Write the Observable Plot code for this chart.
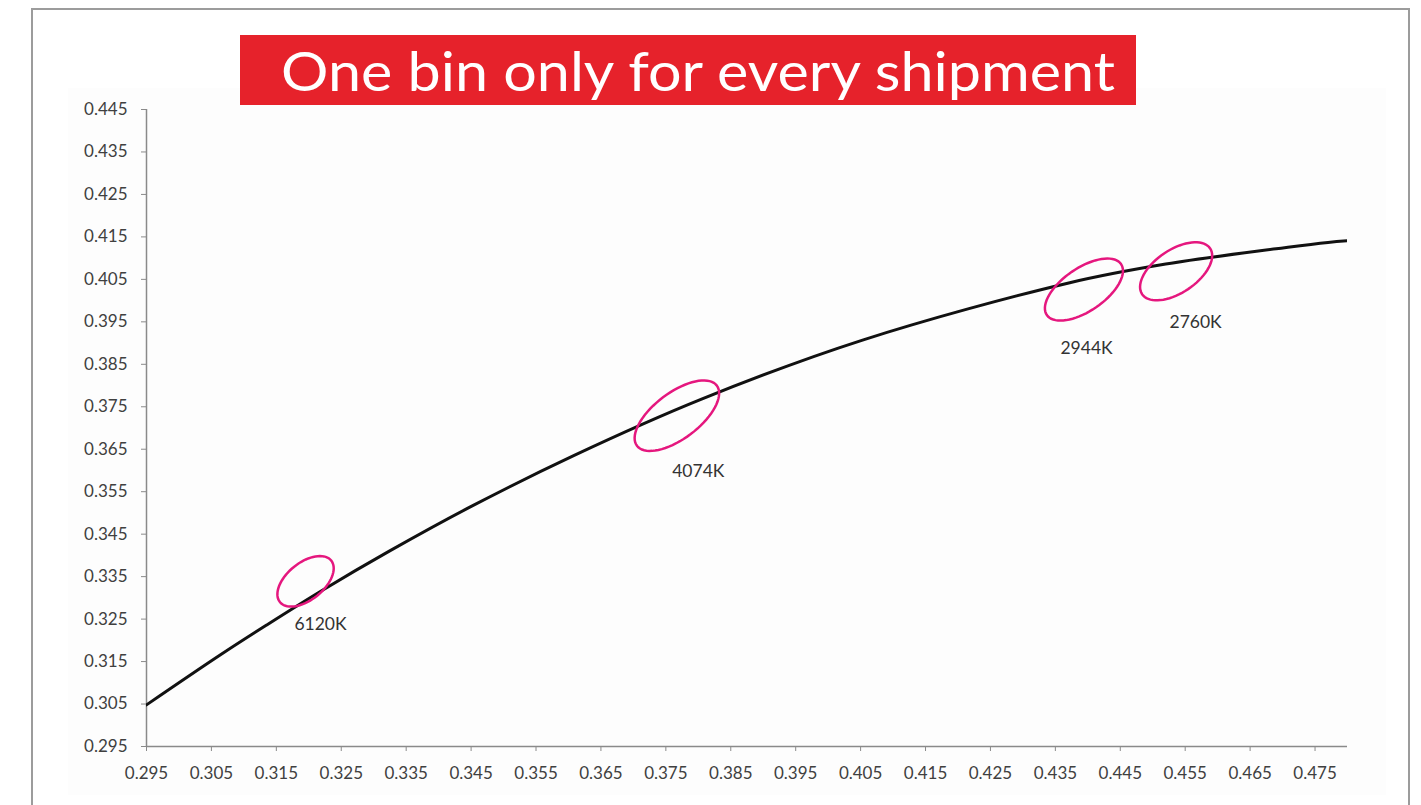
<!DOCTYPE html>
<html>
<head>
<meta charset="utf-8">
<script src="https://cdn.jsdelivr.net/npm/d3@7"></script>
<script src="https://cdn.jsdelivr.net/npm/@observablehq/plot@0.6"></script>
<style>
  html, body { margin: 0; padding: 0; width: 1421px; height: 805px; overflow: hidden; background: #fff; }
  #frame { position: absolute; left: 31px; top: 8px; width: 1379px; height: 900px; border: 2px solid #9c9c9c; box-sizing: border-box; }
  #panel { position: absolute; left: 68px; top: 88px; width: 1318px; height: 707px; background: #fdfdfd; }
  #chart { position: absolute; left: 0; top: 0; }
  #titlebox { position: absolute; left: 240px; top: 35px; width: 896px; height: 70px; background: #e6222b; }
  #title { position: absolute; left: 281px; top: 36px; height: 70px; line-height: 70px; color: #fff; font-family: Lato, sans-serif; font-size: 54px; font-weight: 400; white-space: nowrap; transform-origin: 0 50%; }
  #chart [aria-label$="axis tick"], #chart [aria-label$="axis tick"] path, #chart g[aria-label$="axis"] line { stroke: #8a8a8a; }
</style>
</head>
<body>
<div id="frame"></div>
<div id="panel"></div>
<div id="chart"></div>
<div id="titlebox"></div>
<div id="title">One bin only for every shipment</div>
<script>
// Locus curve
const curveX = [0.2950, 0.3064, 0.3135, 0.3221, 0.3324, 0.3451, 0.3608, 0.3805, 0.4053, 0.4369, 0.4520, 0.4690, 0.4770, 0.4862];
const curveY = [0.3048, 0.3166, 0.3236, 0.3318, 0.3410, 0.3516, 0.3635, 0.3768, 0.3907, 0.4041, 0.4086, 0.4122, 0.4137, 0.4147];

// Highlighted bins (ellipse centres) and their labels
const binX = [0.3195, 0.3767, 0.4394, 0.4536];
const binY = [0.3339, 0.3729, 0.4026, 0.4069];
const labelText = ["6120K", "4074K", "2944K", "2760K"];
const labelX = [0.3218, 0.3800, 0.4398, 0.4566];
const labelY = [0.3237, 0.3599, 0.3887, 0.3948];

// Tick labels
const xTicks = [0.295, 0.305, 0.315, 0.325, 0.335, 0.345, 0.355, 0.365, 0.375, 0.385, 0.395, 0.405, 0.415, 0.425, 0.435, 0.445, 0.455, 0.465, 0.475];
const yTicks = [0.295, 0.305, 0.315, 0.325, 0.335, 0.345, 0.355, 0.365, 0.375, 0.385, 0.395, 0.405, 0.415, 0.425, 0.435, 0.445];

// Ellipse styles (pixel semi-axes and tilt in degrees)
const ellipseStyle = [
  {a: 33, b: 18.5, angle: 39},
  {a: 50, b: 23, angle: 37},
  {a: 45, b: 21.5, angle: 34.5},
  {a: 41, b: 21.5, angle: 34}
];

function ellipseSymbol(a, b, deg) {
  const t = -deg * Math.PI / 180;
  return {
    draw(ctx) {
      const n = 72;
      for (let i = 0; i <= n; i++) {
        const u = 2 * Math.PI * i / n;
        const ex = a * Math.cos(u), ey = b * Math.sin(u);
        const px = ex * Math.cos(t) - ey * Math.sin(t);
        const py = ex * Math.sin(t) + ey * Math.cos(t);
        if (i === 0) ctx.moveTo(px, py); else ctx.lineTo(px, py);
      }
      ctx.closePath();
    }
  };
}

const curve = curveX.map((x, i) => ({x, y: curveY[i]}));
const bins = binX.map((x, i) => ({x, y: binY[i], i}));
const labels = labelText.map((t, i) => ({t, x: labelX[i], y: labelY[i]}));

const plot = Plot.plot({
  width: 1421,
  height: 805,
  marginLeft: 146,
  marginRight: 74,
  marginTop: 109,
  marginBottom: 59,
  style: {background: "none", color: "#404040", fontFamily: "Lato, sans-serif", fontSize: "17px", overflow: "visible"},
  x: {domain: [0.295, 0.48], ticks: xTicks, tickFormat: d3.format(".3f"), tickSize: 5, tickPadding: 15, label: null},
  y: {domain: [0.295, 0.445], ticks: yTicks, tickFormat: d3.format(".3f"), tickSize: 5, tickPadding: 14, label: null},
  marks: [
    Plot.ruleX([0.295], {stroke: "#8a8a8a", strokeWidth: 1.5}),
    Plot.ruleY([0.295], {stroke: "#8a8a8a", strokeWidth: 1.5}),
    Plot.line(curve, {x: "x", y: "y", stroke: "#111", strokeWidth: 3, curve: "catmull-rom", clip: true}),
    ...bins.map(d => Plot.dot([d], {x: "x", y: "y", symbol: ellipseSymbol(ellipseStyle[d.i].a, ellipseStyle[d.i].b, ellipseStyle[d.i].angle), stroke: "#e5177e", strokeWidth: 2.5, fill: "none"})),
    Plot.text(labels, {x: "x", y: "y", text: "t", fill: "#333", fontSize: 17.5})
  ]
});
document.getElementById("chart").appendChild(plot);

// fit the title text to the box width
const title = document.getElementById("title");
const w = title.getBoundingClientRect().width;
title.style.transform = `scaleX(${834 / w})`;
</script>
</body>
</html>
